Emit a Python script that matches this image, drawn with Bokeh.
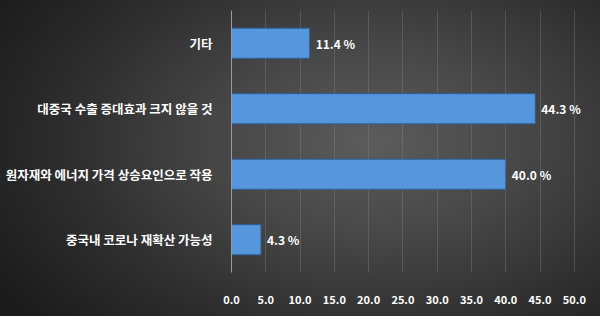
from bokeh.plotting import figure
from bokeh.models import ColumnDataSource, FactorRange, Range1d, FixedTicker, NumeralTickFormatter
from bokeh.core.properties import value
from bokeh.embed import file_html
from bokeh.resources import INLINE

categories = ["중국내 코로나 재확산 가능성", "원자재와 에너지 가격 상승요인으로 작용", "대중국 수출 증대효과 크지 않을 것", "기타"]
values = [4.3, 40.0, 44.3, 11.4]
labels = ["4.3 %", "40.0 %", "44.3 %", "11.4 %"]
ticks = [0, 5, 10, 15, 20, 25, 30, 35, 40, 45, 50]

FONT = "Noto Sans CJK KR"

src = ColumnDataSource(dict(cat=categories, val=values, lab=labels))

p = figure(width=600, height=316, output_backend="svg", toolbar_location=None,
           y_range=FactorRange(factors=categories, range_padding=0),
           x_range=Range1d(0, 52.5),
           min_border_left=231, min_border_right=9, min_border_top=10, min_border_bottom=44)

p.background_fill_color = None
p.border_fill_color = None
p.outline_line_color = None
p.styles = {"background": "radial-gradient(ellipse 75% 90% at 62% 45%, #5c5c5c 0%, #464646 35%, #2c2c2c 70%, #1a1a1a 100%)"}

p.hbar(y="cat", right="val", left=0, height=0.46, source=src,
       fill_color="#5596dc", line_color="#2c5f98", line_width=1)

p.text(x="val", y="cat", text="lab", source=src, x_offset=6,
       text_baseline="middle", text_align="left", text_color="white",
       text_font=value(FONT), text_font_size="12px", text_font_style="bold")

p.xaxis.ticker = FixedTicker(ticks=ticks)
p.xaxis.formatter = NumeralTickFormatter(format="0.0")
p.xaxis.axis_line_color = None
p.xaxis.major_tick_line_color = None
p.xaxis.minor_tick_line_color = None
p.xaxis.major_label_standoff = 16
p.xaxis.major_label_text_color = "white"
p.xaxis.major_label_text_font = FONT
p.xaxis.major_label_text_font_size = "11px"
p.xaxis.major_label_text_font_style = "bold"

p.yaxis.axis_line_color = "#9a9a9a"
p.yaxis.axis_line_width = 1
p.yaxis.major_tick_line_color = None
p.yaxis.minor_tick_line_color = None
p.yaxis.major_label_standoff = 13
p.yaxis.major_label_text_color = "white"
p.yaxis.major_label_text_font = FONT
p.yaxis.major_label_text_font_size = "12.5px"
p.yaxis.major_label_text_font_style = "bold"

p.ygrid.grid_line_color = None
p.xgrid.ticker = FixedTicker(ticks=ticks[1:])
p.xgrid.grid_line_color = "#8a8a8a"
p.xgrid.grid_line_alpha = 0.35

open("out.html", "w").write(file_html(p, INLINE))
